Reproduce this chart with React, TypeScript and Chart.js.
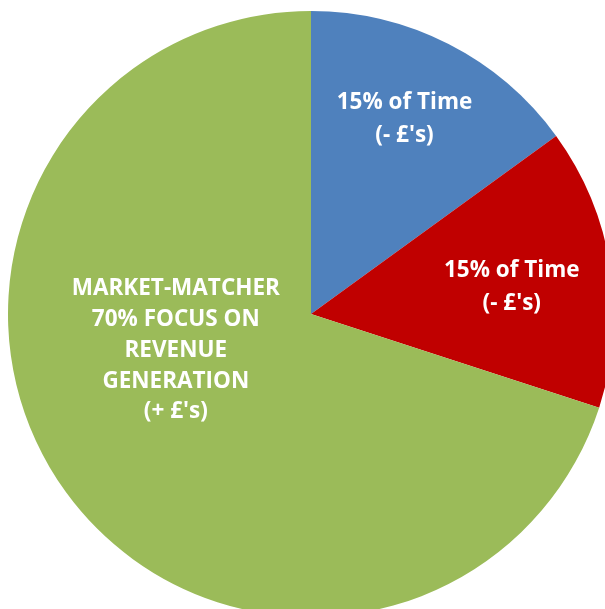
import React, { useEffect, useRef } from "react";
import { Chart, registerables } from "chart.js";

Chart.register(...registerables);

const categories = ["Blue segment", "Red segment", "Market-Matcher"];
const values = [15, 15, 70];
const sliceColors = ["#4F81BD", "#C00000", "#9BBB59"];
const sliceLabels: string[][] = [
  ["15% of Time", "(- £'s)"],
  ["15% of Time", "(- £'s)"],
  ["MARKET-MATCHER", "70% FOCUS ON", "REVENUE", "GENERATION", "(+ £'s)"],
];

// label placement (style): fraction of slice angle, fraction of radius, font size, line height
const labelPlacement = [
  { a: 0.47, r: 0.72, size: 22.5, lh: 33 },
  { a: 0.51, r: 0.67, size: 22.5, lh: 33 },
  { a: 0.587, r: 0.46, size: 22.5, lh: 30.7 },
];
const textBaselineShift = 2.5;

const labelPlugin = {
  id: "sliceLabels",
  afterDatasetsDraw(chart: any) {
    const ctx = chart.ctx;
    const meta = chart.getDatasetMeta(0);
    meta.data.forEach((arc: any, i: number) => {
      const p = arc.getProps(["x", "y", "startAngle", "endAngle", "outerRadius"], true);
      const pl = labelPlacement[i];
      const ang = p.startAngle + (p.endAngle - p.startAngle) * pl.a;
      const cx = p.x + Math.cos(ang) * p.outerRadius * pl.r;
      const cy = p.y + Math.sin(ang) * p.outerRadius * pl.r + textBaselineShift;
      const lines = sliceLabels[i];
      ctx.save();
      ctx.fillStyle = "#FFFFFF";
      ctx.font = `bold ${pl.size}px "Open Sans", Lato, sans-serif`;
      ctx.textAlign = "center";
      ctx.textBaseline = "middle";
      const total = (lines.length - 1) * pl.lh;
      lines.forEach((t, k) => {
        ctx.fillText(t, cx, cy - total / 2 + k * pl.lh);
      });
      ctx.restore();
    });
  },
};

export default function App() {
  const ref = useRef<HTMLCanvasElement>(null);
  useEffect(() => {
    document.body.style.margin = "0";
    document.body.style.overflow = "hidden";
    const chart = new Chart(ref.current!, {
      type: "pie",
      data: {
        labels: categories,
        datasets: [
          {
            data: values,
            backgroundColor: sliceColors,
            borderWidth: 0,
          },
        ],
      },
      options: {
        responsive: false,
        animation: false,
        layout: { padding: 0 },
        plugins: {
          legend: { display: false },
          tooltip: { enabled: false },
        },
      },
      plugins: [labelPlugin],
    });
    return () => chart.destroy();
  }, []);
  return (
    <div
      style={{
        position: "absolute",
        left: 0,
        top: 0,
        width: 605,
        height: 609,
        overflow: "hidden",
        background: "#FFFFFF",
      }}
    >
      <canvas
        ref={ref}
        width={606}
        height={606}
        style={{ position: "absolute", left: 8, top: 11, width: 606, height: 606 }}
      />
    </div>
  );
}
